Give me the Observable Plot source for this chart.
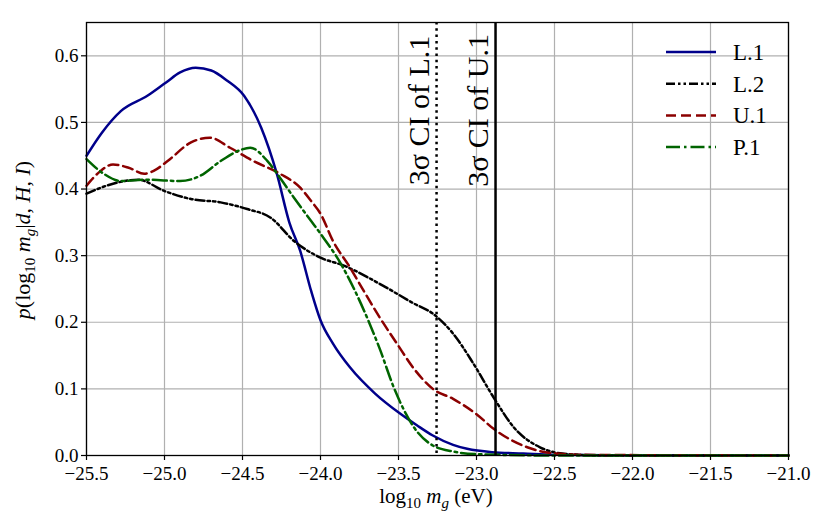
<!DOCTYPE html>
<html>
<head>
<meta charset="utf-8">
<script src="https://cdn.jsdelivr.net/npm/d3@7"></script>
<script src="https://cdn.jsdelivr.net/npm/@observablehq/plot@0.6"></script>
<style>
  body { margin: 0; background: white; }
  #chart { width: 830px; height: 532px; }
</style>
</head>
<body>
<div id="chart"></div>
<script>
// ---- data ----
const seriesNames = ["L.1", "L.2", "U.1", "P.1"];

const L1x = [-25.5,-25.4,-25.28,-25.11,-24.99,-24.9,-24.8,-24.7,-24.6,-24.49,-24.38,-24.28,-24.2,-24.13,-24.06,-24.0,-23.92,-23.81,-23.65,-23.49,-23.38,-23.28,-23.15,-23.06,-22.9,-22.7,-22.5,-22.0,-21.0];
const L1y = [0.45,0.485,0.517,0.54,0.56,0.575,0.582,0.578,0.563,0.54,0.492,0.423,0.35,0.307,0.247,0.203,0.168,0.132,0.093,0.063,0.045,0.03,0.016,0.01,0.005,0.003,0.001,0.0,0.0];

const L2x = [-25.5,-25.33,-25.17,-25.0,-24.83,-24.64,-24.47,-24.32,-24.17,-24.0,-23.85,-23.6,-23.4,-23.28,-23.15,-23.02,-22.89,-22.76,-22.59,-22.45,-22.2,-21.0];
const L2y = [0.393,0.408,0.414,0.397,0.385,0.38,0.37,0.357,0.322,0.297,0.285,0.255,0.228,0.213,0.183,0.138,0.087,0.042,0.012,0.003,0.0,0.0];

const U1x = [-25.5,-25.42,-25.33,-25.23,-25.13,-25.05,-24.98,-24.83,-24.71,-24.58,-24.43,-24.26,-24.13,-24.06,-24.0,-23.92,-23.81,-23.76,-23.62,-23.51,-23.4,-23.28,-23.15,-23.0,-22.89,-22.67,-22.5,-22.3,-21.0];
const U1y = [0.405,0.425,0.437,0.432,0.423,0.43,0.442,0.47,0.477,0.462,0.442,0.423,0.402,0.382,0.363,0.322,0.282,0.262,0.207,0.168,0.13,0.1,0.085,0.062,0.04,0.012,0.003,0.001,0.0];

const P1x = [-25.5,-25.39,-25.28,-25.11,-24.9,-24.77,-24.64,-24.52,-24.45,-24.34,-24.26,-24.17,-24.06,-24.0,-23.87,-23.72,-23.62,-23.53,-23.4,-23.28,-23.15,-23.0,-22.5,-21.0];
const P1y = [0.445,0.423,0.412,0.414,0.412,0.42,0.442,0.458,0.462,0.442,0.417,0.387,0.352,0.333,0.288,0.217,0.16,0.102,0.042,0.015,0.006,0.002,0.0,0.0];

const ciValues = [-23.256, -22.878];
const ciLabels = ["3σ CI of L.1", "3σ CI of U.1"];

const xTicks = [-25.5,-25.0,-24.5,-24.0,-23.5,-23.0,-22.5,-22.0,-21.5,-21.0];
const yTicks = [0.0,0.1,0.2,0.3,0.4,0.5,0.6];

// ---- build tables ----
const toRows = (xs, ys) => xs.map((x, i) => ({x, y: ys[i]}));
const rowsL1 = toRows(L1x, L1y);
const rowsL2 = toRows(L2x, L2y);
const rowsU1 = toRows(U1x, U1y);
const rowsP1 = toRows(P1x, P1y);

const styles = [
  {stroke: "#00008b", dash: null},
  {stroke: "#000000", dash: "9,3,2.5,3,2.5,3"},
  {stroke: "#8b0000", dash: "10,5"},
  {stroke: "#006400", dash: "14,4,2.5,4"}
];
const FONT = "'Liberation Serif', 'DejaVu Serif', serif";
const fmt = d3.format(".1f");

const plot = Plot.plot({
  width: 830,
  height: 532,
  marginLeft: 86,
  marginRight: 42,
  marginTop: 22,
  marginBottom: 77,
  style: {fontFamily: FONT, fontSize: "19px", background: "white", color: "black"},
  x: {domain: [-25.5, -21.0], ticks: xTicks, tickFormat: fmt, label: null},
  y: {domain: [0, 0.65], ticks: yTicks, tickFormat: fmt, label: null},
  marks: [
    Plot.gridX(xTicks, {stroke: "#b0b0b0", strokeOpacity: 1, strokeWidth: 1.2}),
    Plot.gridY(yTicks, {stroke: "#b0b0b0", strokeOpacity: 1, strokeWidth: 1.2}),
    Plot.line(rowsL1, {x: "x", y: "y", stroke: styles[0].stroke, strokeWidth: 2.5, curve: "monotone-x"}),
    Plot.line(rowsL2, {x: "x", y: "y", stroke: styles[1].stroke, strokeWidth: 2.5, strokeDasharray: styles[1].dash, curve: "monotone-x"}),
    Plot.line(rowsU1, {x: "x", y: "y", stroke: styles[2].stroke, strokeWidth: 2.5, strokeDasharray: styles[2].dash, curve: "monotone-x"}),
    Plot.line(rowsP1, {x: "x", y: "y", stroke: styles[3].stroke, strokeWidth: 2.5, strokeDasharray: styles[3].dash, curve: "monotone-x"}),
    Plot.ruleX([ciValues[0]], {stroke: "black", strokeWidth: 2.5, strokeDasharray: "2.5,3.8"}),
    Plot.ruleX([ciValues[1]], {stroke: "black", strokeWidth: 2.5}),
    Plot.text([0, 1], {
      x: i => ciValues[i], y: 0.518, text: i => ciLabels[i],
      rotate: -90, dx: -8, fontSize: 30, fill: "black", textAnchor: "middle", lineAnchor: "bottom"
    }),
    Plot.frame({stroke: "black", strokeWidth: 1.3}),
    Plot.axisX(xTicks, {tickSize: 5, tickPadding: 6, tickFormat: fmt, label: null, strokeWidth: 1.2}),
    Plot.axisY(yTicks, {tickSize: 5, tickPadding: 3, tickFormat: fmt, label: null, strokeWidth: 1.2})
  ]
});

document.getElementById("chart").appendChild(plot);
const svg = d3.select(plot);

// legend
const leg = svg.append("g").attr("font-family", FONT).attr("font-size", 23).attr("text-anchor", "start");
seriesNames.forEach((name, i) => {
  const yy = 52 + i * 31.7;
  leg.append("line").attr("x1", 666).attr("x2", 716).attr("y1", yy).attr("y2", yy)
    .attr("stroke", styles[i].stroke).attr("stroke-width", 2.5)
    .attr("stroke-dasharray", styles[i].dash);
  leg.append("text").attr("x", 733).attr("y", yy).attr("dy", "0.35em")
    .attr("text-anchor", "start").text(name);
});

// x axis label
const xl = svg.append("text").attr("font-family", FONT).attr("font-size", 21)
  .attr("x", 436).attr("y", 503).attr("text-anchor", "middle");
xl.append("tspan").text("log");
xl.append("tspan").attr("font-size", 15).attr("dy", 5).text("10");
xl.append("tspan").attr("dy", -5).attr("font-style", "italic").text(" m");
xl.append("tspan").attr("font-size", 15).attr("font-style", "italic").attr("dy", 5).text("g");
xl.append("tspan").attr("dy", -5).text(" (eV)");

// y axis label
const yl = svg.append("text").attr("font-family", FONT).attr("font-size", 22)
  .attr("transform", "translate(30,240) rotate(-90)").attr("text-anchor", "middle");
yl.append("tspan").attr("font-style", "italic").text("p");
yl.append("tspan").text("(log");
yl.append("tspan").attr("font-size", 15).attr("dy", 5).text("10");
yl.append("tspan").attr("dy", -5).attr("font-style", "italic").text(" m");
yl.append("tspan").attr("font-size", 15).attr("font-style", "italic").attr("dy", 5).text("g");
yl.append("tspan").attr("dy", -5).text("|");
yl.append("tspan").attr("font-style", "italic").text("d");
yl.append("tspan").text(", ");
yl.append("tspan").attr("font-style", "italic").text("H");
yl.append("tspan").text(", ");
yl.append("tspan").attr("font-style", "italic").text("I");
yl.append("tspan").text(")");
</script>
</body>
</html>
